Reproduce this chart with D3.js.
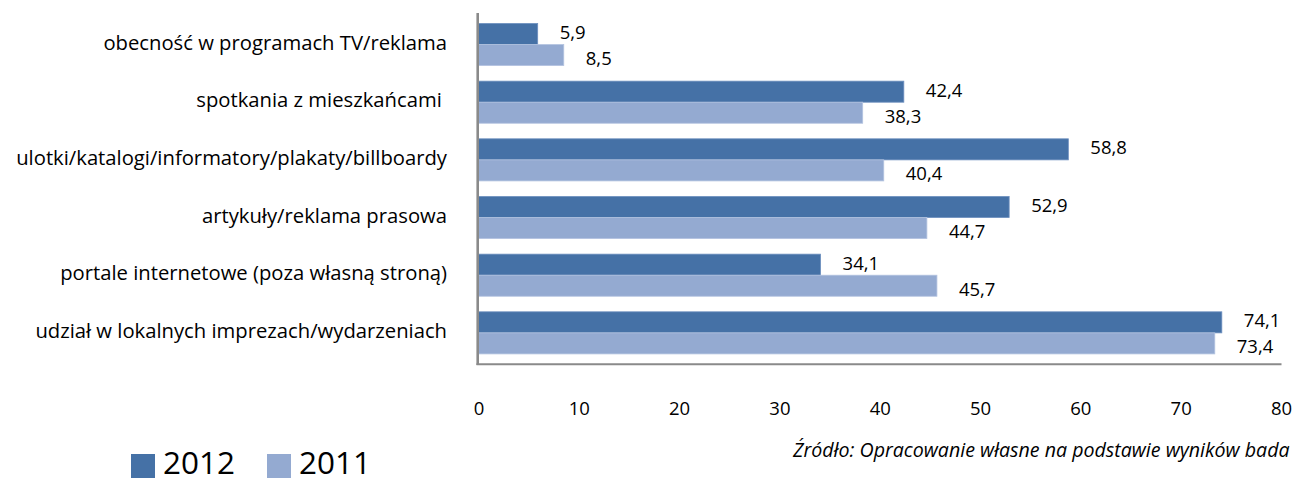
<!DOCTYPE html>
<html>
<head>
<meta charset="utf-8">
<script src="https://cdn.jsdelivr.net/npm/d3@7"></script>
<style>
  html, body { margin: 0; padding: 0; background: #fff; }
  svg { display: block; }
  text { font-family: "Open Sans", Lato, sans-serif; fill: #000; }
</style>
</head>
<body>
<svg id="chart" width="1293" height="482"></svg>
<script>
const categories = [
  "obecność w programach TV/reklama",
  "spotkania z mieszkańcami ",
  "ulotki/katalogi/informatory/plakaty/billboardy",
  "artykuły/reklama prasowa",
  "portale internetowe (poza własną stroną)",
  "udział w lokalnych imprezach/wydarzeniach"
];
const seriesNames = ["2012", "2011"];
const values2012 = [5.9, 42.4, 58.8, 52.9, 34.1, 74.1];
const values2011 = [8.5, 38.3, 40.4, 44.7, 45.7, 73.4];
const xTicks = [0, 10, 20, 30, 40, 50, 60, 70, 80];
const sourceText = "Źródło: Opracowanie własne na podstawie wyników bada";

const colors = { "2012": "#4571A6", "2011": "#94AAD1" };

const svg = d3.select("#chart");

// fit a text's font size so that its width equals target
function fitSize(str, target, base, italic) {
  const t = svg.append("text").attr("font-size", base).style("white-space", "pre")
    .attr("font-style", italic ? "italic" : null).text(str);
  const w = t.node().getComputedTextLength();
  t.remove();
  return base * target / w;
}

const x = d3.scaleLinear().domain([0, 80]).range([478.5, 1281]);
const y = d3.scaleBand().domain(categories).range([15.7, 361.7]).paddingInner(0.27).paddingOuter(0.135);
const ySub = d3.scaleBand().domain(seriesNames).range([0, y.bandwidth()]);

const fmt = v => d3.format(".1f")(v).replace(".", ",");

const rows = categories.map((c, i) => ({ cat: c, vals: [
  { s: "2012", v: values2012[i] },
  { s: "2011", v: values2011[i] }
]}));

const numSize = 18.5;

// bars
const g = svg.append("g");
rows.forEach(r => {
  r.vals.forEach(d => {
    g.append("rect")
      .attr("x", x(0))
      .attr("y", y(r.cat) + ySub(d.s))
      .attr("width", x(d.v) - x(0))
      .attr("height", ySub.bandwidth())
      .attr("fill", colors[d.s])
      .attr("stroke", d.s === "2012" ? "#6d8fbf" : "#b3c3e0")
      .attr("stroke-width", 0.8);
  });
});

// value labels
rows.forEach(r => {
  r.vals.forEach((d, j) => {
    const cy = y(r.cat) + y.bandwidth() / 2;
    g.append("text")
      .attr("x", x(d.v) + 22)
      .attr("y", cy + (j === 0 ? -12 : 14))
      .attr("dy", "0.35em")
      .attr("font-size", numSize)
      .text(fmt(d.v));
  });
});

// axes lines
svg.append("line")
  .attr("x1", 477.7).attr("x2", 477.7)
  .attr("y1", 13).attr("y2", 365)
  .attr("stroke", "#8a8a8a").attr("stroke-width", 2.6);
svg.append("line")
  .attr("x1", 476.5).attr("x2", 1281.5)
  .attr("y1", 364.3).attr("y2", 364.3)
  .attr("stroke", "#8a8a8a").attr("stroke-width", 2);

// x axis tick labels via d3 axis
const xAxis = d3.axisBottom(x).tickValues(xTicks).tickSize(0).tickPadding(0).tickFormat(d => d);
const ax = svg.append("g").attr("transform", "translate(0,402)").call(xAxis);
ax.select(".domain").remove();
ax.selectAll("text").attr("font-size", numSize).attr("font-family", "Open Sans").attr("fill", "#000").attr("dy", "0.71em");

// category labels
const catSize = fitSize(categories[2], 431, 19);
svg.append("g").selectAll("text").data(categories).join("text")
  .attr("x", 447)
  .attr("y", d => y(d) + y.bandwidth() / 2 - 2)
  .attr("dy", "0.35em")
  .attr("font-size", catSize)
  .attr("text-anchor", "end")
  .style("white-space", "pre")
  .text(d => d);

// legend
const legSize = fitSize("2012", 72, 32);
const legend = svg.append("g");
const legX = [131, 267];
seriesNames.forEach((s, i) => {
  legend.append("rect").attr("x", legX[i]).attr("y", 454).attr("width", 24).attr("height", 24).attr("fill", colors[s]);
  legend.append("text").attr("x", legX[i] + 32).attr("y", 474).attr("font-size", legSize).text(s);
});

// source
const srcSize = fitSize(sourceText, 497, 17, true);
svg.append("text")
  .attr("x", 793).attr("y", 457)
  .attr("font-size", srcSize)
  .attr("font-style", "italic")
  .text(sourceText);
</script>
</body>
</html>
